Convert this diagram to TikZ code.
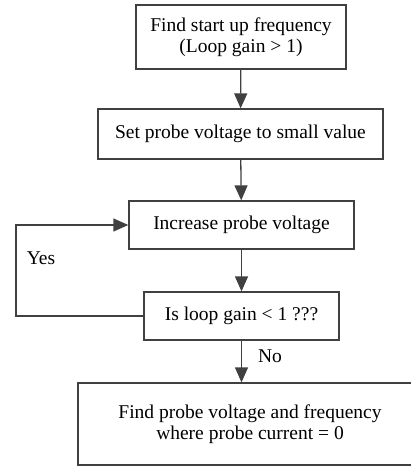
\documentclass[tikz,border=0pt]{standalone}
\usepackage{fontspec}
\setmainfont{Liberation Serif}
\usetikzlibrary{arrows.meta}

\tikzset{
	stepbox/.style={draw=black!75,line width=1.3pt,align=center,inner sep=0pt,
		font=\fontsize{19.5}{21}\selectfont},
	arr/.style={draw=black!75,line width=1.3pt,-{Triangle[length=15pt,width=13pt]}}
}

\begin{document}
\begin{tikzpicture}[x=1pt,y=-1pt]
	\useasboundingbox (0,0) rectangle (411,466);
	
	\node[stepbox,minimum width=210pt,minimum height=64pt] (find) at (241,37) {Find start up frequency\\(Loop gain > 1)};
	\node[stepbox,minimum width=285pt,minimum height=50pt] (set) at (240.5,134) {Set probe voltage to small value};
	\node[stepbox,minimum width=225pt,minimum height=48pt] (inc) at (241.5,225) {Increase probe voltage};
	\node[stepbox,minimum width=195pt,minimum height=48pt] (test) at (241.5,316) {Is loop gain < 1 ???};
	\node[stepbox,minimum width=344pt,minimum height=82pt] (zero) at (250,424) {Find probe voltage and frequency\\where probe current = 0};
	\coordinate (loop) at (16,270);
	
	\draw[arr] (find) -- (set);
	\draw[arr] (set) -- (inc);
	\draw[arr] (inc) -- (test);
	\draw[arr] (test.south) -- (test.south |- zero.north);
	\draw[arr] (test.west) -| (loop) |- (inc.west);
	
	\node[font=\fontsize{19.5}{21}\selectfont] (yes) at (41,258) {Yes};
	\node[font=\fontsize{19.5}{21}\selectfont] (no) at (270,356) {No};
	
\end{tikzpicture}
\end{document}
